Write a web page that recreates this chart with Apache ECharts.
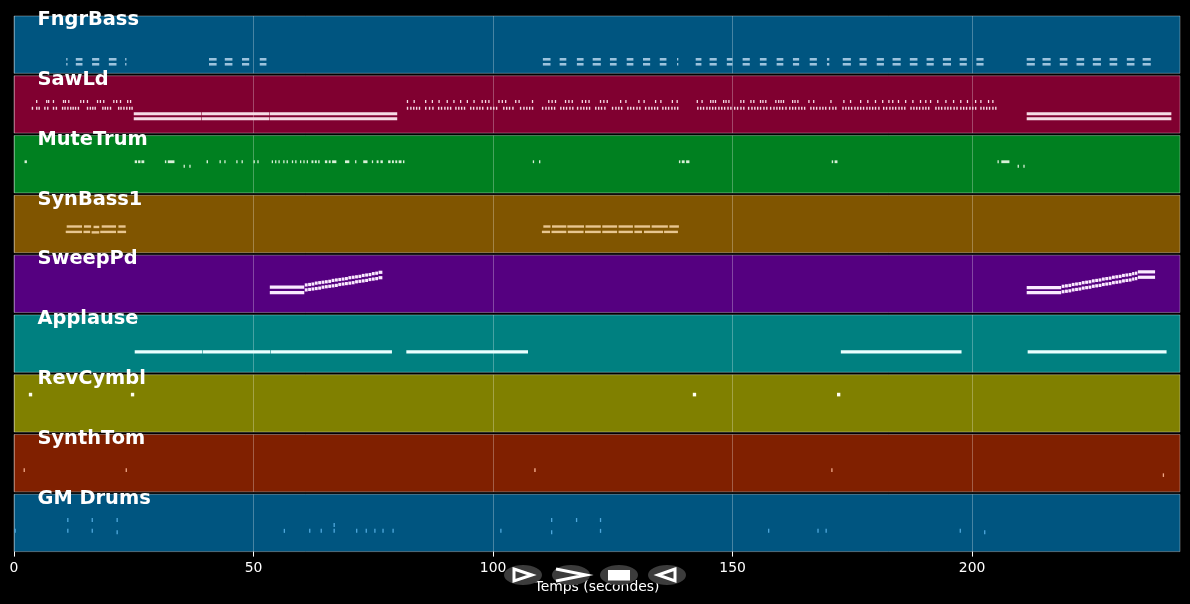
<!DOCTYPE html>
<html><head><meta charset="utf-8">
<script src="https://cdn.jsdelivr.net/npm/echarts@6/dist/echarts.min.js"></script>
<style>html,body{margin:0;padding:0;background:#000}#c{width:1190px;height:604px}</style>
</head><body><div id="c"></div>
<script>
// ---------------- DATA ----------------
const trackNames = ['FngrBass','SawLd','MuteTrum','SynBass1','SweepPd','Applause','RevCymbl','SynthTom','GM Drums'];
const xTicks = [0, 50, 100, 150, 200];
const timeMax = 243.4;
const pitchMin = 0, pitchMax = 127;

// FngrBass: [start, duration], played on two pitches
const fngrBassPitches = [31, 20];
const fngrBassNotes = [[10.9,0.25],[12.9,1.5],[16.3,1.6],[19.8,1.7],[23.2,0.25],[40.7,1.7],[44.0,1.7],[47.6,1.6],[51.3,1.5],
  [110.4,1.7],[113.9,1.5],[117.5,1.5],[120.8,1.8],[124.4,1.5],[127.9,1.5],[131.3,1.6],[134.8,1.5],[138.4,0.25],[142.3,1.3],
  [145.2,1.6],[148.8,1.3],[152.1,1.6],[155.7,1.5],[159.2,1.5],[162.6,1.4],[166.1,1.6],[169.7,0.6],[173.0,1.8],[176.5,1.6],
  [180.1,1.6],[183.4,1.8],[187.0,1.7],[190.5,1.6],[193.9,1.8],[197.4,1.6],[200.9,1.6],
  [211.4,1.8],[214.7,1.8],[218.3,1.7],[221.8,1.7],[225.2,1.8],[228.7,1.7],[232.3,1.7],[235.6,1.8]];

// SawLd
const sawLdHighPitch = 70, sawLdHighDur = 0.3;
const sawLdHighStarts = [4.6,6.7,7.1,8.1,10.2,10.6,11.3,13.8,14.4,15.2,17.3,17.9,18.6,20.7,21.3,22.1,23.6,24.2,
  82.0,83.4,85.8,87.2,88.6,90.3,91.7,93.1,94.5,95.9,97.6,98.3,99.0,101.1,101.8,102.5,104.6,105.3,108.1,
  111.5,112.2,112.9,115.0,115.7,116.4,118.5,119.2,119.9,122.3,123.0,123.7,126.5,127.6,130.3,131.4,133.8,134.9,137.3,138.3,
  142.5,143.5,145.3,145.8,146.3,148.0,148.5,149.1,151.6,152.2,153.7,154.3,155.7,156.2,156.8,158.9,159.5,160.0,160.5,162.4,162.9,163.5,165.8,166.8,170.4,
  173.1,174.5,176.6,178.1,179.7,181.2,182.5,183.3,184.5,186.0,187.5,189.1,190.2,191.2,192.7,194.4,196.0,197.5,198.9,200.6,201.7,203.3,204.2];
const sawLdLowPitch = 55, sawLdLowDur = 0.4;
const sawLdLowStarts = [3.7,4.6,5.1,6.3,6.9,8.1,8.7,10.0,10.5,11.1,11.7,12.2,12.7,13.3,15.2,15.8,16.3,16.8,18.4,18.9,19.4,20.0,21.7,22.2,22.8,23.4,24.0,24.5,
  82.0,82.7,83.3,83.9,84.5,85.8,86.6,87.3,88.5,89.1,89.8,90.4,91.0,92.1,92.7,93.3,93.9,95.2,95.8,96.5,97.1,97.7,98.7,99.4,100.0,100.6,102.1,102.7,103.3,104.0,105.6,106.3,106.9,107.5,108.1,
  110.2,110.9,111.5,112.1,112.7,114.0,114.6,115.2,115.9,116.5,117.5,118.2,118.8,119.4,120.0,121.3,121.9,122.5,123.2,124.8,125.5,126.1,126.7,128.0,128.6,129.2,129.9,130.5,131.7,132.4,133.0,133.6,134.2,135.3,135.9,136.5,137.2,137.8,138.4,
  142.6,143.2,143.8,144.5,145.1,145.7,146.3,147.0,147.6,148.2,148.9,149.5,150.3,150.9,151.6,152.2,153.2,153.9,154.5,155.1,155.7,156.4,157.0,157.8,158.5,159.1,159.7,160.3,161.0,161.8,162.4,163.0,163.7,164.3,164.9,166.2,166.8,167.4,168.1,168.7,169.3,170.1,170.8,171.4,
  172.9,173.5,174.1,174.7,175.4,176.0,176.6,177.2,177.9,178.5,179.1,179.7,180.4,181.4,182.0,182.7,183.3,183.9,184.6,185.2,185.8,187.1,187.7,188.3,188.9,189.6,190.2,190.8,192.3,192.9,193.5,194.2,194.8,195.4,196.1,196.7,197.5,198.1,198.7,199.4,200.0,200.6,201.7,202.3,202.9,203.5,204.2,204.8];
const sawLdLongNotes = [[25.0,39.2,43],[39.2,53.4,43],[53.4,80.1,43],[25.0,39.2,32],[39.2,53.4,32],[53.4,80.1,32],[211.4,241.7,43],[211.4,241.7,32]];

// MuteTrum: [start, end, pitch]
const muteTrumNotes = [[2.2,2.8,69],[25.2,25.8,69],[25.9,26.5,69],[26.6,27.3,69],[31.5,31.9,69],[32.1,33.6,69],[35.4,35.7,59],[36.6,36.9,59],
  [40.2,40.6,69],[42.9,43.2,69],[43.9,44.2,69],[46.4,46.7,69],[47.5,47.8,69],[50.0,50.3,69],[50.8,51.1,69],
  [53.8,54.1,69],[54.5,54.8,69],[55.2,55.5,69],[56.2,56.5,69],[56.9,57.2,69],[58.0,58.3,69],[58.7,59.0,69],[59.7,60.0,69],[60.4,60.7,69],[61.1,61.4,69],
  [62.1,62.6,69],[62.8,63.3,69],[63.5,63.9,69],[64.9,65.5,69],[65.7,66.2,69],[66.4,67.4,69],[69.1,70.1,69],[71.2,71.5,69],[72.9,73.9,69],[74.7,75.0,69],
  [75.7,76.2,69],[76.5,77.1,69],[78.1,78.7,69],[78.9,79.4,69],[79.6,80.1,69],[80.3,81.0,69],[81.2,81.6,69],
  [108.3,108.6,69],[109.6,109.9,69],[138.8,139.2,69],[139.4,140.1,69],[140.3,141.1,69],[170.7,171.1,69],[171.3,172.0,69],
  [205.3,205.6,69],[206.1,207.9,69],[209.5,209.8,59],[210.7,211.0,59]];

// SynBass1: [start, end, pitch]
const synBassNotes = [[11.0,14.3,58],[14.6,16.2,58],[16.6,17.9,57],[18.3,21.4,58],[21.8,23.4,58],
  [10.8,14.3,46],[14.5,16.0,46],[16.2,17.9,45],[18.0,21.4,46],[21.6,23.5,46],
  [110.5,112.1,58],[112.3,115.4,58],[115.5,119.1,58],[119.3,122.6,58],[122.8,126.0,58],[126.2,129.3,58],[129.5,132.9,58],[133.1,136.6,58],[136.8,138.9,58],
  [110.2,112.0,46],[112.2,115.4,46],[115.6,119.0,46],[119.2,122.6,46],[122.8,126.0,46],[126.2,129.3,46],[129.5,131.2,46],[131.5,135.6,46],[135.7,138.7,46]];

// SweepPd
const sweepFlatNotes = [[53.4,60.7,56],[53.4,60.7,44],[211.4,218.7,55],[211.4,218.7,44],[234.6,238.3,90],[234.6,238.3,78]];
const sweep1Starts = [60.7,61.4,62.1,62.8,63.5,64.2,64.9,65.6,66.3,67.0,67.7,68.4,69.1,69.8,70.5,71.2,71.9,72.6,73.3,74.0,74.7,75.4,76.1,77.0];
const sweep1High = [61,62,63,65,66,67,68,69,71,72,73,74,75,77,78,79,80,82,83,84,86,87,89];
const sweep1Low  = [50,51,52,53,54,56,57,58,59,60,62,63,64,65,66,68,69,70,71,73,74,75,77];
const sweep2Starts = [218.7,219.4,220.1,220.8,221.5,222.2,222.9,223.6,224.3,225.0,225.7,226.4,227.1,227.8,228.5,229.2,229.9,230.6,231.3,232.0,232.7,233.4,234.0,234.6];
const sweep2High = [58,59,60,62,63,64,66,67,68,70,71,72,74,75,76,78,79,80,82,83,84,86,87];
const sweep2Low  = [46,47,48,50,51,52,54,55,56,58,59,60,62,63,64,66,67,68,70,71,72,74,75];

// Applause, RevCymbl, SynthTom, GM Drums
const applauseNotes = [[25.2,39.4,45],[39.4,53.6,45],[53.6,79.0,45],[81.9,107.4,45],[172.6,197.9,45],[211.6,240.7,45]];
const revCymblNotes = [[3.1,3.9,83],[24.4,25.2,83],[141.7,142.5,83],[171.8,172.6,83]];
const synthTomNotes = [[2.0,2.25,48],[23.3,23.55,48],[108.6,109.0,48],[170.6,170.85,48],[239.8,240.05,37]];
const drumDur = 0.25;
const drumHits = [[0.1,46],[11.1,70],[11.1,46],[16.2,70],[16.2,46],[21.4,70],[21.4,43],[56.3,46],[61.6,46],[64.0,46],[66.7,59],[66.7,46],
  [71.4,46],[73.4,46],[75.2,46],[76.9,46],[79.0,46],[101.5,46],[112.1,70],[112.1,43],[117.3,70],[122.3,70],[122.3,46],
  [157.4,46],[167.7,46],[169.4,46],[197.4,46],[202.5,43]];

// ---------------- STYLE ----------------
const bandColors = ['#005580','#800030','#008020','#805500','#550080','#008080','#808000','#802000','#005580'];
const noteColors = ['#9cc3dd','#f6dbe5','#d8f0d8','#e8c690','#faeaff','#eaffff','#fffff0','#f0a888','#4fa8dc'];
const noteHeights = [2.6, 3.0, 2.8, 2.4, 3.2, 3.3, 3.6, 3.6, 4.0];

// ---------------- BUILD ----------------
const trackData = [];
trackData.push(fngrBassNotes.flatMap(([s,d]) => fngrBassPitches.map(p => [s, s+d, p])));
trackData.push([
  ...sawLdHighStarts.map(s => [s, s+sawLdHighDur, sawLdHighPitch]),
  ...sawLdLowStarts.map(s => [s, s+sawLdLowDur, sawLdLowPitch]),
  ...sawLdLongNotes]);
trackData.push(muteTrumNotes);
trackData.push(synBassNotes);
const sweepSteps = (starts, pitches) => pitches.map((p, k) => [starts[k], starts[k+1], p]);
trackData.push([...sweepFlatNotes, ...sweepSteps(sweep1Starts, sweep1High), ...sweepSteps(sweep1Starts, sweep1Low),
  ...sweepSteps(sweep2Starts, sweep2High), ...sweepSteps(sweep2Starts, sweep2Low)]);
trackData.push(applauseNotes);
trackData.push(revCymblNotes);
trackData.push(synthTomNotes);
trackData.push(drumHits.map(([s,p]) => [s, s+drumDur, p]));

const TOP0 = 16, STEP = 59.79, BAND_H = 57.3, LEFT = 14, RIGHT = 10;
const grids = [], xAxes = [], yAxes = [], series = [], graphics = [];
const nTracks = trackNames.length;
trackNames.forEach((name, i) => {
  const top = TOP0 + i * STEP;
  const last = i === nTracks - 1;
  grids.push({left: LEFT, right: RIGHT, top: top, height: BAND_H, show: true,
    backgroundColor: bandColors[i], borderColor: 'rgba(255,255,255,0.32)', borderWidth: 1});
  xAxes.push({type: 'value', gridIndex: i, min: 0, max: timeMax, interval: 50,
    axisLine: {show: false},
    axisTick: {show: last, customValues: xTicks, length: 5, lineStyle: {color: '#ffffff', width: 1}},
    axisLabel: {show: last, customValues: xTicks, color: '#ffffff', fontSize: 13.9, fontFamily: 'DejaVu Sans', margin: 10},
    splitLine: {show: true, lineStyle: {color: 'rgba(255,255,255,0.28)', width: 1}},
    name: last ? 'Temps (secondes)' : '', nameLocation: 'middle', nameGap: 29,
    nameTextStyle: {color: '#ffffff', fontSize: 13.9, fontFamily: 'DejaVu Sans'}});
  yAxes.push({type: 'value', gridIndex: i, min: pitchMin, max: pitchMax, show: false});
  const h = noteHeights[i], col = noteColors[i];
  series.push({type: 'custom', xAxisIndex: i, yAxisIndex: i, silent: true, animation: false,
    encode: {x: [0, 1], y: 2},
    data: trackData[i],
    renderItem: (params, api) => {
      const a = api.coord([api.value(0), api.value(2)]);
      const b = api.coord([api.value(1), api.value(2)]);
      const w = Math.max(b[0] - a[0] - 0.5, 1.3);
      return {type: 'rect', shape: {x: a[0], y: a[1] - h / 2, width: w, height: h}, style: {fill: col}};
    }});
  graphics.push({type: 'text', x: 37.5, y: top + 4.2, z: 100,
    style: {text: name, fill: '#ffffff', font: 'bold 19.4px "DejaVu Sans"', verticalAlign: 'middle', align: 'left'}});
});

// playback buttons (decoration)
const btnY = 575, btnXs = [523, 571, 619, 667];
btnXs.forEach(cx => graphics.push({type: 'ellipse', z: 101, shape: {cx: cx, cy: btnY, rx: 19, ry: 10}, style: {fill: '#3c3c3c'}}));
graphics.push({type: 'polygon', z: 102, shape: {points: [[514, 569], [532, 575], [514, 581]]}, style: {fill: null, stroke: '#fff', lineWidth: 3}});
graphics.push({type: 'polyline', z: 102, shape: {points: [[556, 569], [586, 575], [556, 581]]}, style: {fill: null, stroke: '#fff', lineWidth: 3}});
graphics.push({type: 'rect', z: 102, shape: {x: 608, y: 570, width: 22, height: 10.5}, style: {fill: '#fff'}});
graphics.push({type: 'polygon', z: 102, shape: {points: [[675, 569], [658, 575], [675, 581]]}, style: {fill: null, stroke: '#fff', lineWidth: 3}});

const chart = echarts.init(document.getElementById('c'), null, {renderer: 'canvas', width: 1190, height: 604});
chart.setOption({
  backgroundColor: '#000000',
  animation: false,
  grid: grids, xAxis: xAxes, yAxis: yAxes, series: series,
  graphic: graphics
});
</script></body></html>
